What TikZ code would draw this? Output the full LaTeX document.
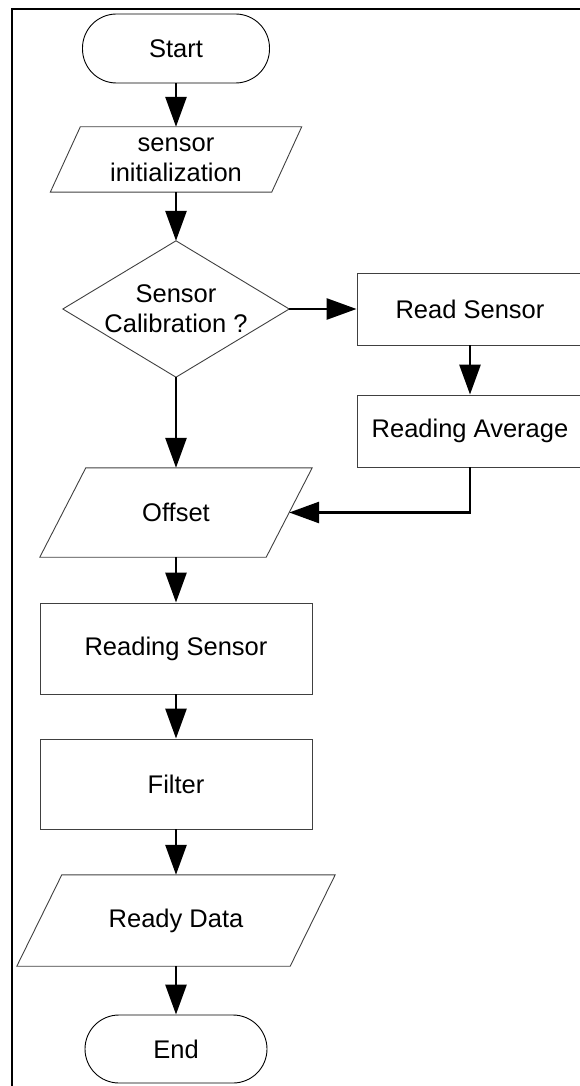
\documentclass[tikz,border=0pt]{standalone}
\usepackage{fontspec}
\setmainfont{Liberation Sans}
\usetikzlibrary{arrows.meta,calc}
\begin{document}
\begin{tikzpicture}[x=1pt,y=-1pt,
  every node/.style={font=\fontsize{25.5}{30}\selectfont, align=center, inner sep=0pt},
  term/.style={draw=black, line width=0.9pt, rounded corners=34pt, minimum width=187pt, minimum height=69pt},
  procbox/.style={draw=black!75, line width=0.9pt, minimum width=272pt, minimum height=90pt},
  shapeline/.style={draw=black!75, line width=0.9pt},
  arr/.style={line width=2.8pt, -{Triangle[length=30pt,width=21pt]}},
  frameline/.style={line width=2.4pt}
]
\useasboundingbox (0,0) rectangle (579,1086);
% frame
\draw[frameline] (12,1095) -- (12,9) -- (590,9);
% nodes
\node[term] (start) at (176,48.5) {Start};
\node[minimum width=251pt, minimum height=65pt] (init) at (176,159.5) {sensor\\initialization};
\draw[shapeline] ($(init.north west)+(30,0)$) -- (init.north east) -- ($(init.south east)+(-30,0)$) -- (init.south west) -- cycle;
\node[minimum width=226pt, minimum height=136pt] (cal) at (176,309) {Sensor\\Calibration ?};
\draw[shapeline] (cal.north) -- (cal.east) -- (cal.south) -- (cal.west) -- cycle;
\node[procbox, minimum width=226pt, minimum height=72pt] (rs) at (470,309) {Read Sensor};
\node[procbox, minimum width=226pt, minimum height=72pt] (ra) at (470,431) {Reading Average};
\node[minimum width=272pt, minimum height=89pt] (off) at (176,512.5) {Offset};
\draw[shapeline] ($(off.north west)+(46,0)$) -- (off.north east) -- ($(off.south east)+(-46,0)$) -- (off.south west) -- cycle;
\node[procbox, minimum height=91pt] (rsn) at (176,648.5) {Reading Sensor};
\node[procbox] (filt) at (176,784) {Filter};
\node[minimum width=318pt, minimum height=91pt] (rd) at (176,920.5) {Ready Data};
\draw[shapeline] ($(rd.north west)+(45,0)$) -- (rd.north east) -- ($(rd.south east)+(-45,0)$) -- (rd.south west) -- cycle;
\node[term, minimum width=182pt, minimum height=68pt] (end) at (176,1049) {End};
\coordinate (offin) at ($(off.east)+(-23,0)$);
% connectors
\draw[arr] (start.south) -- (init.north);
\draw[arr] (init.south) -- (cal.north);
\draw[arr] (cal.east) -- (rs.west);
\draw[arr] (rs.south) -- (ra.north);
\draw[arr] (cal.south) -- (off.north);
\draw[arr] (ra.south) |- (offin);
\draw[arr] (off.south) -- (rsn.north);
\draw[arr] (rsn.south) -- (filt.north);
\draw[arr] (filt.south) -- (rd.north);
\draw[arr] (rd.south) -- (end.north);
\end{tikzpicture}
\end{document}
